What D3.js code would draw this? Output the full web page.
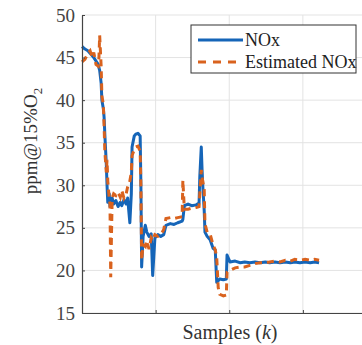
<!DOCTYPE html>
<html>
<head>
<meta charset="utf-8">
<script src="https://cdnjs.cloudflare.com/ajax/libs/d3/7.8.5/d3.min.js"></script>
</head>
<body style="margin:0">
<script>
// samples (k), shared by both series
const samples = [0, 4, 8, 11, 14, 16, 19, 22, 23, 24, 26, 27, 29, 30, 31, 33, 34, 35, 37, 38,
    39, 41, 43, 46, 49, 52, 54, 57, 60, 62, 65, 67, 68, 71, 73, 76, 79, 80, 81, 83,
    86, 88, 91, 94, 96, 99, 103, 107, 111, 114, 120, 125, 130, 136, 137, 139, 144, 149, 155, 159,
    160, 162, 163, 164, 166, 167, 170, 174, 178, 181, 183, 185, 187, 192, 196, 197, 198, 201, 208, 215,
    221, 228, 235, 242, 249, 255, 262, 269, 276, 283, 289, 296, 303, 310, 316, 322];

const nox = [46.3, 46.0, 45.8, 45.5, 45.2, 45.0, 44.6, 44.2, 43.8, 43.5, 42.0, 40.0, 39.0, 38.0, 36.0, 32.5, 30.0, 28.0, 29.0, 27.5,
    28.0, 28.5, 27.8, 28.2, 27.5, 28.0, 27.6, 28.3, 27.8, 28.5, 25.6, 29.0, 34.5, 35.8, 36.0, 36.1, 35.8, 30.0, 20.4, 24.0,
    25.3, 24.5, 24.0, 24.3, 19.4, 23.8, 24.2, 24.0, 24.2, 25.3, 25.5, 25.4, 25.6, 25.8, 26.0, 27.6, 27.8, 27.6, 27.7, 27.9,
    31.0, 34.5, 32.0, 30.0, 27.0, 24.5, 24.0, 23.6, 22.6, 22.4, 18.6, 18.8, 19.0, 18.9, 19.0, 21.8, 21.6, 21.0, 21.1, 20.9,
    21.0, 20.9, 21.0, 20.9, 21.0, 20.9, 21.0, 20.9, 21.0, 20.9, 21.0, 20.9, 21.0, 20.9, 21.0, 20.9];

const noxEst = [44.5, 44.8, 45.5, 45.8, 45.0, 45.6, 44.2, 44.0, 45.0, 47.6, 44.0, 40.5, 39.5, 37.0, 34.0, 31.5, 33.0, 30.5, 28.5, 27.8,
    19.2, 28.5, 29.0, 28.8, 29.2, 28.6, 29.4, 28.5, 29.0, 29.8, 30.5, 31.5, 33.5, 34.2, 34.5, 34.6, 34.0, 30.0, 21.2, 23.0,
    22.8, 23.5, 22.5, 23.8, 23.5, 24.2, 24.0, 24.2, 24.8, 26.1, 26.2, 26.1, 26.2, 26.3, 30.6, 27.2, 27.2, 27.3, 27.4, 27.5,
    29.0, 31.8, 31.0, 30.5, 29.5, 25.5, 24.5, 24.3, 23.0, 22.4, 21.5, 18.0, 17.2, 17.0, 17.1, 19.8, 19.9, 20.0, 20.3, 20.4,
    20.4, 20.6, 20.8, 20.9, 20.9, 21.0, 21.1, 21.0, 21.2, 21.1, 21.3, 21.2, 21.3, 21.2, 21.3, 21.2];

const yTicks = [15, 20, 25, 30, 35, 40, 45, 50];
const xGrid = [100, 200, 300];
const seriesNames = ["NOx", "Estimated NOx"];

const w = 362;
const h = 345;
const serif = "'Liberation Serif'";
// plot area, right side runs past the picture edge
const m = { top: 15, left: 82, bottom: 313, right: 376.5 };

const svg = d3.select("body").append("svg")
    .attr("width", w)
    .attr("height", h);

const xScale = d3.scaleLinear().domain([0, 400]).range([m.left, m.right]);
const yScale = d3.scaleLinear().domain([15, 50]).range([m.bottom, m.top]);

// grid lines
svg.append("g")
    .selectAll("line.hg")
    .data(yTicks)
    .enter().append("line")
    .attr("x1", m.left).attr("x2", m.right)
    .attr("y1", d => yScale(d)).attr("y2", d => yScale(d))
    .attr("stroke", "#e3e3e3").attr("stroke-width", 1);

svg.append("g")
    .selectAll("line.vg")
    .data(xGrid)
    .enter().append("line")
    .attr("x1", d => xScale(d)).attr("x2", d => xScale(d))
    .attr("y1", m.top).attr("y2", m.bottom)
    .attr("stroke", "#e3e3e3").attr("stroke-width", 1);

// the two series
const line = (vals) => d3.line()
    .x((d, i) => xScale(samples[i]))
    .y(d => yScale(d))(vals);

svg.append("path")
    .attr("d", line(nox))
    .attr("fill", "none")
    .attr("stroke", "#1565b8")
    .attr("stroke-width", 3)
    .attr("stroke-linejoin", "round");

svg.append("path")
    .attr("d", line(noxEst))
    .attr("fill", "none")
    .attr("stroke", "#d9621e")
    .attr("stroke-width", 3)
    .attr("stroke-dasharray", "7,5");

// axes, ticks pointing inward
const yAxis = d3.axisLeft(yScale).tickValues(yTicks).tickSizeInner(-3).tickSizeOuter(0).tickPadding(7);
const gy = svg.append("g")
    .attr("transform", "translate(" + m.left + ",0)")
    .call(yAxis);

const xAxis = d3.axisBottom(xScale).tickValues(xGrid).tickSizeInner(-3).tickSizeOuter(0).tickFormat("");
const gx = svg.append("g")
    .attr("transform", "translate(0," + m.bottom + ")")
    .call(xAxis);

[gy, gx].forEach(g => {
    g.attr("font-family", null).attr("font-size", null);
    g.select(".domain").attr("stroke", "#444").attr("stroke-width", 1.2);
    g.selectAll(".tick line").attr("stroke", "#444");
});
gy.selectAll(".tick text")
    .style("font-family", serif)
    .attr("font-size", 19)
    .attr("fill", "#444");

// axis labels
const yl = svg.append("text")
    .attr("transform", "translate(37,141) rotate(-90)")
    .attr("text-anchor", "middle")
    .style("font-family", serif)
    .attr("font-size", 19)
    .attr("fill", "#333");
yl.append("tspan").text("ppm@15%O");
yl.append("tspan").attr("font-size", 13).attr("dy", 5).text("2");

const xl = svg.append("text")
    .attr("x", 230)
    .attr("y", 339)
    .attr("text-anchor", "middle")
    .style("font-family", serif)
    .attr("font-size", 20)
    .attr("fill", "#333");
xl.append("tspan").text("Samples (");
xl.append("tspan").attr("font-style", "italic").text("k");
xl.append("tspan").text(")");

// legend
const lg = svg.append("g");
lg.append("rect")
    .attr("x", 191).attr("y", 25)
    .attr("width", 165).attr("height", 48)
    .attr("fill", "#fff")
    .attr("stroke", "#333").attr("stroke-width", 1);

const styles = [
    { color: "#1565b8", dash: null },
    { color: "#d9621e", dash: "8,7" }
];
seriesNames.forEach((name, i) => {
    const yy = 40 + i * 22;
    lg.append("line")
        .attr("x1", 198).attr("x2", 243)
        .attr("y1", yy).attr("y2", yy)
        .attr("stroke", styles[i].color)
        .attr("stroke-width", 3)
        .attr("stroke-dasharray", styles[i].dash);
    lg.append("text")
        .attr("x", 245).attr("y", yy)
        .attr("dy", "0.35em")
        .style("font-family", serif)
        .attr("font-size", 18)
        .attr("fill", "#222")
        .text(name);
});
</script>
</body>
</html>
